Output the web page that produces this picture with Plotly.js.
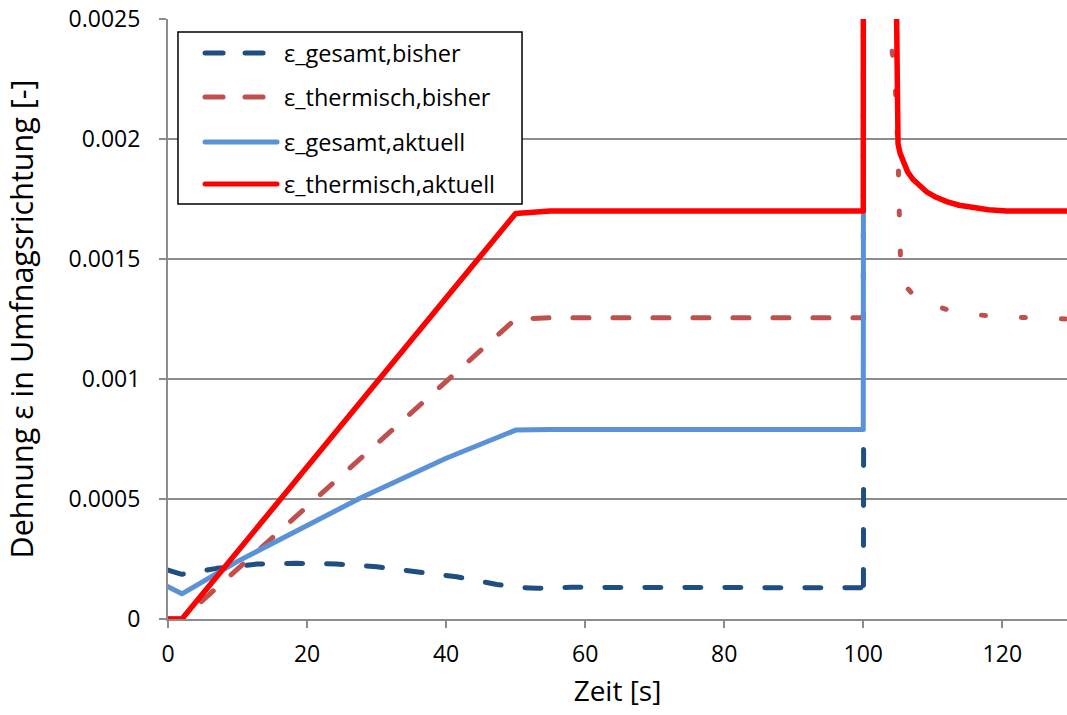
<!DOCTYPE html>
<html>
<head>
<meta charset="utf-8">
<script src="https://cdn.plot.ly/plotly-3.0.1.min.js"></script>
<style>
  html, body { margin: 0; padding: 0; background: #fff; }
  #chart { width: 1067px; height: 715px; }
  /* rounded dash ends and joins for series lines */
  path.js-line { stroke-linecap: round; stroke-linejoin: round; }
</style>
</head>
<body>
<div id="chart"></div>
<script>
// Zeit [s] and Dehnung values per series
const seriesNames = ['ε_gesamt,bisher', 'ε_thermisch,bisher', 'ε_gesamt,aktuell', 'ε_thermisch,aktuell'];

const tGesamtBisher = [0, 1, 2, 7, 12.8, 18.5, 24.2, 30, 35.8, 41.5, 47.3, 50, 53, 58, 100, 100.02, 100.05];
const eGesamtBisher = [0.000204, 0.000195, 0.000186, 0.000211, 0.000229, 0.000232, 0.000229, 0.000218, 0.000197, 0.000176, 0.000144, 0.000132, 0.000128, 0.000132, 0.00013, 0.00009, 0.00079];

const tThermBisher = [0, 2, 50, 55, 100, 100.02, 103.0, 103.7, 104.5, 104.8, 105.0, 105.15, 105.4, 106.0, 107.5, 108.9, 113.5, 119.4, 125.2, 129.3];
const eThermBisher = [0, 0, 0.00125, 0.001255, 0.001255, 0.0031, 0.0031, 0.00246, 0.00229, 0.00212, 0.00195, 0.00172, 0.00145, 0.00139, 0.00134, 0.00132, 0.001275, 0.00126, 0.001254, 0.00125];

const tGesamtAktuell = [0, 2, 10, 20, 27.6, 40, 50, 55, 100, 100.02];
const eGesamtAktuell = [0.000135, 0.000105, 0.00024, 0.00039, 0.000503, 0.00067, 0.000787, 0.00079, 0.00079, 0.0017];

const tThermAktuell = [0, 2, 50, 55, 100, 100.02, 104.0, 104.95, 105.0, 105.3, 105.8, 106.4, 107.2, 108.1, 109.1, 110.5, 112.0, 113.8, 115.8, 118.0, 120.6, 129.3];
const eThermAktuell = [0, 0, 0.00169, 0.0017, 0.0017, 0.0045, 0.0045, 0.00205, 0.00198, 0.00194, 0.0019, 0.001862, 0.00183, 0.001803, 0.00178, 0.001757, 0.001739, 0.001724, 0.001714, 0.001705, 0.0017, 0.0017];

const xTicks = [0, 20, 40, 60, 80, 100, 120];
const yTicks = [0, 0.0005, 0.001, 0.0015, 0.002, 0.0025];

// The thermal "bisher" series is drawn with long dashes up to the jump at 100 s,
// and with short sparse dashes after it.
const splitAt = tThermBisher.indexOf(100);

const colors = ['#1F4E82', '#C0504D', '#5A92DA', '#FF0000'];
const dashes = ['16px,24px', '16px,24px', 'solid', 'solid'];
const legendDashes = ['18px,22px', '18px,22px', 'solid', 'solid'];

const traces = [
  {
    x: tGesamtBisher, y: eGesamtBisher, name: seriesNames[0],
    mode: 'lines', line: { color: colors[0], width: 5, dash: dashes[0] }
  },
  {
    x: tThermBisher.slice(0, splitAt + 1), y: eThermBisher.slice(0, splitAt + 1),
    name: seriesNames[1],
    mode: 'lines', line: { color: colors[1], width: 5, dash: dashes[1] }
  },
  {
    x: tThermBisher.slice(splitAt), y: eThermBisher.slice(splitAt),
    name: seriesNames[1],
    mode: 'lines', line: { color: colors[1], width: 5, dash: '4px,36px' }
  },
  {
    x: tGesamtAktuell, y: eGesamtAktuell, name: seriesNames[2],
    mode: 'lines', line: { color: colors[2], width: 5, dash: dashes[2] }
  },
  {
    x: tThermAktuell, y: eThermAktuell, name: seriesNames[3],
    mode: 'lines', line: { color: colors[3], width: 5.5, dash: dashes[3] }
  }
];

const font = 'Open Sans, Noto Sans, sans-serif';

// Boxed legend in the upper left of the plot area (paper coordinates)
const legBox = { x0: 0.0111, x1: 0.3938, y0: 0.6917, y1: 0.9783 };
const legKeyX = [0.0412, 0.1213];
const legTextX = 0.1265;
const legRowY = [0.9433, 0.8700, 0.7950, 0.7250];

const shapes = [{
  type: 'rect', xref: 'paper', yref: 'paper',
  x0: legBox.x0, x1: legBox.x1, y0: legBox.y0, y1: legBox.y1,
  fillcolor: '#ffffff', line: { color: '#000000', width: 1.5 }, layer: 'above'
}];
const annotations = [];
seriesNames.forEach((name, i) => {
  shapes.push({
    type: 'line', xref: 'paper', yref: 'paper',
    x0: legKeyX[0], x1: legKeyX[1], y0: legRowY[i], y1: legRowY[i],
    line: { color: colors[i], width: 5, dash: legendDashes[i] }, layer: 'above'
  });
  annotations.push({
    xref: 'paper', yref: 'paper', x: legTextX, y: legRowY[i],
    xanchor: 'left', yanchor: 'middle', showarrow: false, text: name,
    font: { family: font, size: 23.5, color: '#000000' }
  });
});

const layout = {
  width: 1067, height: 715,
  margin: { l: 168, r: 0, t: 19, b: 96 },
  paper_bgcolor: '#ffffff', plot_bgcolor: '#ffffff',
  font: { family: font, color: '#000000', size: 22 },
  showlegend: false,
  shapes: shapes,
  annotations: annotations,
  xaxis: {
    range: [0, 129.3], tickvals: xTicks, ticktext: xTicks.map(String),
    showgrid: false, zeroline: false,
    showline: true, linecolor: '#8c8c8c', linewidth: 2,
    ticks: 'outside', ticklen: 7, tickwidth: 2, tickcolor: '#8c8c8c',
    tickfont: { family: font, size: 23, color: '#000000' },
    ticklabelstandoff: 6,
    title: { text: 'Zeit [s]', font: { family: font, size: 28, color: '#000000' }, standoff: 14 }
  },
  yaxis: {
    range: [0, 0.0025], tickvals: yTicks, ticktext: yTicks.map(String),
    showgrid: true, gridcolor: '#8c8c8c', gridwidth: 2,
    zeroline: false,
    showline: true, linecolor: '#8c8c8c', linewidth: 2,
    ticks: 'outside', ticklen: 7, tickwidth: 2, tickcolor: '#8c8c8c',
    tickfont: { family: font, size: 23, color: '#000000' },
    ticklabelstandoff: 14,
    title: { text: 'Dehnung ε in Umfnagsrichtung [-]', font: { family: font, size: 30.5, color: '#000000' }, standoff: 27 }
  }
};

Plotly.newPlot('chart', traces, layout, { staticPlot: true, displayModeBar: false }).then(() => {
  // rounded ends for the legend key lines
  document.querySelectorAll('.shapelayer path').forEach(p => {
    p.style.strokeLinecap = 'round';
  });
});
</script>
</body>
</html>
